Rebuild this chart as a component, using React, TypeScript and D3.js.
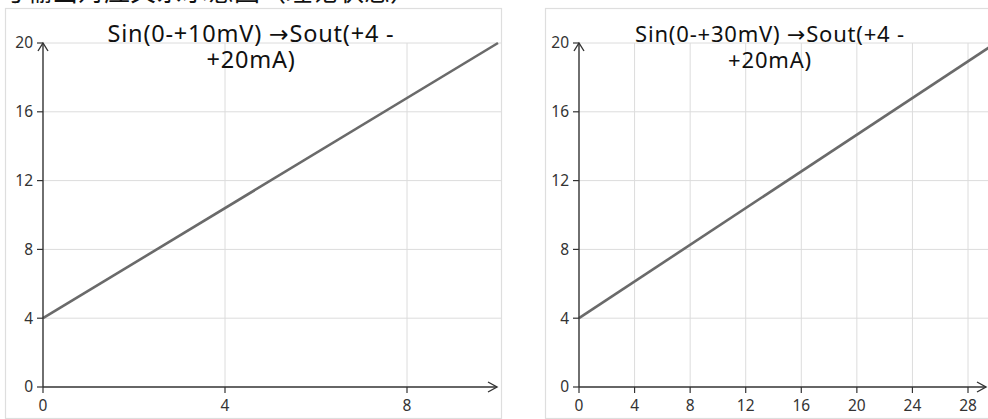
import React from 'react';
import * as d3 from 'd3';

// values
const yTicks = [0, 4, 8, 12, 16, 20];
const leftXTicks = [0, 4, 8];
const rightXTicks = [0, 4, 8, 12, 16, 20, 24, 28];
const leftInput = [0, 10];
const rightInput = [0, 30];
const outputMA = [4, 20];
const leftTitle = ['Sin(0-+10mV) ', '→', 'Sout(+4 -', '+20mA)'];
const rightTitle = ['Sin(0-+30mV) ', '→', 'Sout(+4 -', '+20mA)'];
const caption = '号输出对应关系示意图（理论状态）';

const FONT = '"Noto Sans", "Open Sans", sans-serif';

type PanelProps = {
  box: { x0: number; x1: number; y0: number; y1: number };
  xScale: d3.ScaleLinear<number, number>;
  xTicks: number[];
  xs: number[];
  title: string[];
  titleSize: number;
  titleX: number;
  axisEnd: number;
  clipId: string;
};

function Panel({ box, xScale, xTicks, xs, title, titleSize, titleX, axisEnd, clipId }: PanelProps) {
  const yScale = d3.scaleLinear().domain([0, 20]).range([387, 43]);
  const x0 = xScale(0);
  const y0 = yScale(0);
  const yTop = yScale(20);
  const pts = xs.map((x, i) => [x, outputMA[i]] as [number, number]);
  const line = d3.line<[number, number]>()
    .x(d => xScale(d[0]))
    .y(d => yScale(d[1]));

  return (
    <g>
      <defs>
        <clipPath id={clipId}>
          <rect x={box.x0} y={box.y0} width={box.x1 - box.x0} height={box.y1 - box.y0} />
        </clipPath>
      </defs>
      <rect x={box.x0 + 0.5} y={box.y0 + 0.5} width={box.x1 - box.x0} height={box.y1 - box.y0}
        fill="#fff" stroke="#dedede" strokeWidth={1.2} />
      <g clipPath={`url(#${clipId})`}>
        {/* horizontal grid */}
        {yTicks.filter(t => t > 0).map(t => (
          <line key={'h' + t} x1={x0} x2={box.x1} y1={yScale(t)} y2={yScale(t)} stroke="#dcdcdc" strokeWidth={1} />
        ))}
        {/* vertical grid */}
        {xTicks.filter(t => t > 0).map(t => (
          <line key={'v' + t} x1={xScale(t)} x2={xScale(t)} y1={yTop} y2={y0} stroke="#dcdcdc" strokeWidth={1} />
        ))}
        {/* data line */}
        <path d={line(pts) || ''} fill="none" stroke="#6a6a6a" strokeWidth={2.6} />
        {/* axes */}
        <line x1={x0} x2={x0} y1={y0} y2={yTop} stroke="#333" strokeWidth={1.4} />
        <path d={`M${x0 - 5},${yTop + 8}L${x0},${yTop}L${x0 + 5},${yTop + 8}`} fill="none" stroke="#333" strokeWidth={1.4} />
        <line x1={x0} x2={axisEnd} y1={y0} y2={y0} stroke="#333" strokeWidth={1.4} />
        <path d={`M${axisEnd - 9},${y0 - 5}L${axisEnd},${y0}L${axisEnd - 9},${y0 + 5}`} fill="none" stroke="#333" strokeWidth={1.4} />
        {yTicks.map(t => (
          <g key={'yt' + t}>
            <line x1={x0 - 6} x2={x0} y1={yScale(t)} y2={yScale(t)} stroke="#333" strokeWidth={1.2} />
            <text x={x0 - 10} y={yScale(t)} dy="0.35em" textAnchor="end" fontSize={15.5} fill="#333" fontFamily={FONT}>{t}</text>
          </g>
        ))}
        {xTicks.map(t => (
          <g key={'xt' + t}>
            <line x1={xScale(t)} x2={xScale(t)} y1={y0} y2={y0 + 6} stroke="#333" strokeWidth={1.2} />
            <text x={xScale(t)} y={y0 + 19} dy="0.35em" textAnchor="middle" fontSize={15.5} fill="#333" fontFamily={FONT}>{t}</text>
          </g>
        ))}
        <text x={titleX} y={42} textAnchor="middle" fontSize={titleSize} letterSpacing={0.8} fill="#111" fontFamily={FONT}>
          <tspan>{title[0]}</tspan>
          <tspan fontFamily='"DejaVu Sans", sans-serif'>{title[1]}</tspan>
          <tspan>{title[2]}</tspan>
        </text>
        <text x={titleX} y={68} textAnchor="middle" fontSize={titleSize} letterSpacing={0.8} fill="#111" fontFamily={FONT}>{title[3]}</text>
      </g>
    </g>
  );
}

export default function App() {
  const W = 988;
  const H = 419;
  const leftX = d3.scaleLinear().domain([0, 10]).range([43, 498]);
  const rightX = d3.scaleLinear().domain([0, 28]).range([579, 968]);

  return (
    <svg width={W} height={H} style={{ position: 'absolute', left: 0, top: 0, display: 'block', background: '#fff' }}>
      <text x={0} y={1} fontSize={26} fill="#111" fontFamily='"Noto Sans CJK SC", sans-serif'>{caption}</text>
      <Panel box={{ x0: 5, x1: 501, y0: 8, y1: 418 }} xScale={leftX} xTicks={leftXTicks} xs={leftInput}
        title={leftTitle} titleSize={23.5} titleX={251} axisEnd={497} clipId="clipL" />
      <Panel box={{ x0: 545, x1: 995, y0: 8, y1: 418 }} xScale={rightX} xTicks={rightXTicks} xs={rightInput}
        title={rightTitle} titleSize={22} titleX={770} axisEnd={986} clipId="clipR" />
    </svg>
  );
}
